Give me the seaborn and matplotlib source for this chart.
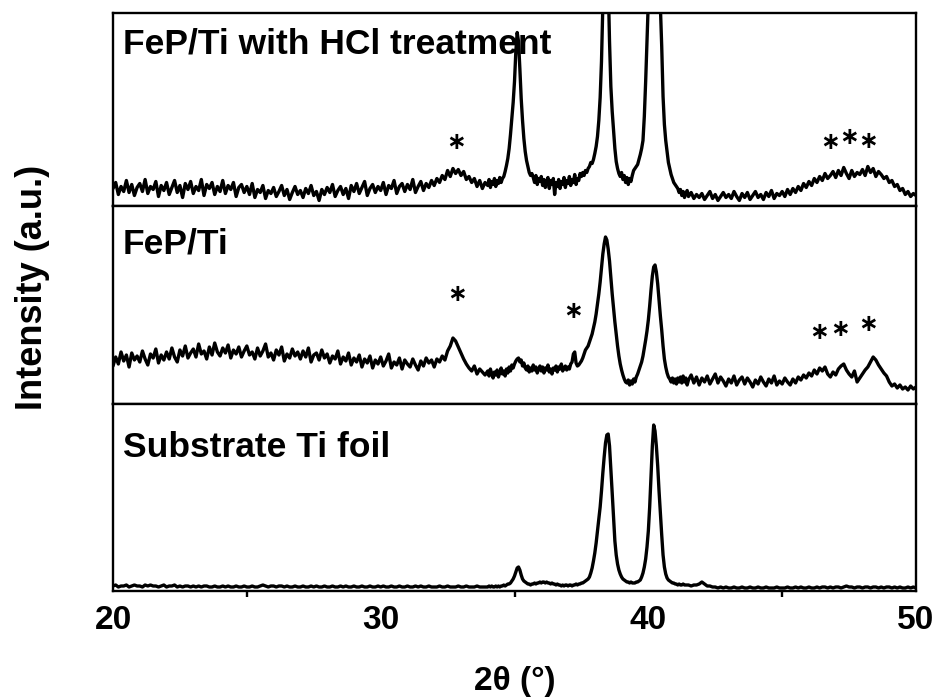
import numpy as np
import pandas as pd
import matplotlib
matplotlib.use("Agg")
import matplotlib.pyplot as plt
import seaborn as sns

# 2-theta grid: 0.1 deg steps, 0.05 deg steps through the Ti reflections
two_theta = np.concatenate([
    np.arange(200, 340) / 10.0,
    np.arange(680, 830) / 20.0,
    np.arange(415, 501) / 10.0,
])

# FeP/Ti after HCl treatment
hcl_counts = [
    18, 24, 12, 20, 15, 26, 14, 22, 11, 19,
    23, 15, 27, 13, 20, 17, 25, 10, 21, 16,
    24, 12, 19, 26, 14, 21, 9, 23, 17, 25,
    13, 20, 16, 27, 11, 22, 18, 24, 12, 20,
    15, 26, 13, 21, 17, 24, 10, 19, 22, 14,
    20, 12, 23, 9, 17, 14, 21, 8, 16, 13,
    19, 10, 15, 21, 11, 17, 7, 14, 20, 12,
    16, 9, 18, 13, 21, 11, 15, 6, 17, 12,
    19, 14, 22, 10, 16, 20, 12, 18, 8, 21,
    15, 23, 13, 19, 25, 11, 18, 22, 14, 20,
    16, 24, 12, 21, 18, 26, 13, 20, 23, 15,
    22, 17, 27, 14, 20, 25, 16, 23, 19, 26,
    21, 28, 24, 31, 27, 36, 30, 38, 33, 37,
    31, 35, 27, 30, 24, 28, 20, 26, 18, 24,
    # 34.00 - 41.45
    21, 27, 19, 25, 22, 28, 20, 26, 23, 29,
    24, 28, 30, 35, 41, 48, 58, 72, 88, 104,
    125, 155, 174, 165, 138, 108, 86, 68, 55, 46,
    40, 34, 31, 33, 29, 24, 31, 22, 28, 25,
    30, 21, 27, 19, 25, 29, 18, 26, 22, 28,
    12, 24, 20, 27, 18, 25, 22, 29, 19, 26,
    23, 30, 21, 27, 24, 32, 22, 28, 26, 33,
    30, 34, 31, 36, 34, 38, 40, 44, 43, 47,
    53, 60, 70, 86, 109, 145, 199, 270, 320, 295,
    226, 165, 120, 95, 76, 58, 45, 38, 33, 30,
    34, 27, 31, 24, 29, 22, 28, 25, 31, 36,
    38, 40, 42, 47, 52, 58, 66, 90, 125, 165,
    205, 260, 320, 360, 380, 370, 330, 280, 235, 200,
    160, 110, 82, 66, 55, 44, 38, 32, 28, 24,
    22, 20, 18, 14, 17, 11, 15, 9, 13, 16,
    # 41.5 - 50.0
    10, 14, 8, 12, 9,
    13, 7, 11, 15, 8, 12, 6, 10, 14, 9,
    12, 8, 15, 10, 6, 13, 9, 14, 7, 11,
    15, 9, 12, 7, 14, 10, 16, 8, 13, 11,
    15, 10, 17, 12, 18, 14, 20, 16, 23, 19,
    25, 21, 28, 24, 30, 26, 33, 28, 31, 35,
    29, 36, 31, 39, 33, 28, 36, 30, 34, 32,
    37, 31, 40, 34, 38, 30, 35, 32, 28, 30,
    24, 26, 20, 22, 16, 18, 12, 15, 10, 13,
    11,
]

# as-prepared FeP/Ti
fep_counts = [
    38, 47, 40, 52, 43, 49, 37, 51, 44, 48,
    42, 53, 45, 39, 50, 46, 55, 41, 49, 44,
    52, 45, 56, 47, 42, 54, 48, 58, 46, 51,
    55, 47, 60, 50, 53, 45, 57, 49, 61, 52,
    48, 56, 51, 59, 46, 54, 50, 57, 47, 53,
    58, 49, 52, 45, 56, 48, 53, 60, 47, 51,
    44, 54, 49, 57, 43, 50, 46, 55, 48, 52,
    45, 53, 47, 56, 42, 49, 51, 44, 54, 46,
    50, 41, 48, 45, 53, 40, 47, 43, 51, 39,
    46, 42, 49, 37, 45, 41, 48, 36, 44, 40,
    47, 38, 43, 50, 36, 42, 39, 46, 35, 44,
    40, 37, 45, 39, 34, 43, 38, 46, 41, 44,
    37, 45, 42, 48, 44, 53, 58, 66, 63, 57,
    51, 45, 40, 36, 33, 38, 30, 35, 32, 29,
    # 34.00 - 41.45
    33, 28, 35, 30, 26, 32, 29, 34, 27, 31,
    36, 30, 33, 28, 35, 31, 37, 33, 39, 36,
    40, 43, 45, 46, 42, 44, 38, 41, 36, 34,
    38, 32, 36, 33, 39, 34, 37, 31, 35, 38,
    33, 37, 31, 36, 34, 39, 32, 35, 30, 36,
    34, 38, 32, 37, 35, 40, 33, 36, 38, 34,
    37, 35, 40, 42, 50, 52, 41, 38, 39, 41,
    43, 46, 50, 54, 56, 58, 62, 66, 70, 76,
    82, 90, 100, 110, 122, 136, 150, 160, 167, 164,
    155, 143, 126, 110, 96, 82, 70, 58, 48, 40,
    34, 29, 25, 22, 21, 24, 19, 23, 20, 25,
    22, 27, 30, 34, 38, 42, 48, 56, 64, 73,
    84, 98, 114, 128, 137, 139, 132, 120, 104, 88,
    74, 58, 45, 37, 31, 27, 25, 22, 26, 21,
    25, 20, 26, 22, 27, 21, 28, 22, 26, 19,
    # 41.5 - 50.0
    24, 29, 21, 27, 19,
    26, 22, 28, 20, 25, 30, 21, 27, 23, 18,
    25, 21, 28, 19, 24, 27, 20, 26, 22, 17,
    24, 20, 27, 22, 18, 25, 21, 28, 19, 23,
    20, 26, 22, 19, 25, 21, 27, 24, 29, 26,
    31, 28, 34, 30, 36, 33, 37, 30, 27, 32,
    29, 35, 38, 40, 34, 30, 27, 33, 22, 26,
    30, 34, 37, 42, 47, 44, 39, 35, 31, 28,
    22, 18, 20, 16, 19, 15, 17, 14, 18, 15,
    17,
]

# bare Ti foil substrate
ti_counts = [
    5, 6, 4, 5, 5, 6, 4, 5, 6, 5,
    5, 4, 6, 5, 6, 5, 5, 4, 5, 6,
    4, 5, 5, 6, 4, 5, 4, 5, 5, 4,
    5, 4, 5, 4, 5, 5, 4, 4, 5, 4,
    4, 5, 4, 5, 4, 4, 5, 4, 4, 5,
    4, 4, 5, 4, 4, 5, 6, 5, 4, 5,
    5, 4, 5, 5, 4, 5, 4, 4, 5, 4,
    4, 5, 4, 4, 5, 4, 5, 4, 4, 5,
    4, 4, 5, 4, 4, 5, 4, 5, 4, 4,
    5, 4, 4, 5, 4, 4, 5, 4, 4, 5,
    4, 5, 4, 4, 5, 4, 4, 5, 4, 4,
    5, 4, 4, 5, 4, 5, 4, 4, 5, 4,
    4, 4, 5, 4, 4, 5, 4, 4, 4, 5,
    4, 4, 5, 4, 4, 4, 5, 4, 4, 4,
    # 34.00 - 41.45
    4, 5, 4, 5, 4, 4, 5, 4, 5, 4,
    5, 5, 6, 5, 6, 7, 7, 8, 10, 12,
    15, 19, 23, 24, 21, 16, 12, 10, 9, 8,
    7, 7, 6, 7, 7, 8, 7, 8, 8, 9,
    8, 9, 9, 8, 9, 8, 8, 7, 8, 7,
    7, 6, 7, 6, 6, 5, 6, 5, 6, 6,
    5, 6, 6, 5, 6, 6, 7, 6, 7, 7,
    8, 8, 9, 10, 11, 12, 14, 18, 23, 30,
    38, 48, 60, 72, 84, 100, 118, 134, 148, 156,
    157, 145, 122, 98, 73, 50, 36, 27, 21, 17,
    14, 12, 11, 10, 9, 9, 8, 9, 8, 8,
    8, 9, 9, 10, 11, 14, 18, 24, 32, 44,
    60, 84, 114, 145, 166, 160, 145, 125, 100, 78,
    56, 36, 24, 17, 13, 11, 10, 9, 8, 8,
    7, 7, 6, 7, 6, 6, 7, 6, 6, 6,
    # 41.5 - 50.0
    6, 5, 6, 6, 7,
    9, 7, 5, 5, 4, 4, 3, 4, 3, 4,
    3, 3, 4, 3, 3, 4, 3, 3, 4, 3,
    3, 4, 3, 3, 4, 3, 3, 3, 4, 3,
    3, 3, 4, 3, 3, 4, 3, 4, 3, 3,
    4, 3, 3, 4, 3, 4, 4, 3, 4, 3,
    4, 4, 3, 4, 5, 4, 4, 3, 4, 4,
    3, 4, 4, 3, 4, 4, 3, 4, 3, 4,
    4, 3, 4, 3, 4, 3, 3, 4, 3, 4,
    3,
]

sample_names = ["FeP/Ti with HCl treatment", "FeP/Ti", "Substrate Ti foil"]
panel_top = [193.5, 197.5, 187.0]

# FeP reflections marked with asterisks (2-theta, intensity)
hcl_marks = [(32.78, 64), (46.75, 64), (47.47, 69), (48.17, 65)]
fep_marks = [(32.85, 109), (37.15, 92), (46.34, 71), (47.16, 74), (48.20, 79)]
marks = [hcl_marks, fep_marks, []]

xticks_major = [20, 30, 40, 50]
xticks_minor = [25, 35, 45]

sns.set_theme(style="white")
plt.rcParams["font.family"] = ["Liberation Sans", "DejaVu Sans"]
plt.rcParams["font.weight"] = "bold"
for key in ("text.color", "axes.labelcolor", "xtick.color", "ytick.color",
            "axes.edgecolor"):
    plt.rcParams[key] = "black"

df = pd.DataFrame({
    "two_theta": np.tile(two_theta, 3),
    "intensity": np.concatenate([hcl_counts, fep_counts, ti_counts]),
    "sample": np.repeat(sample_names, len(two_theta)),
})

fig = plt.figure(figsize=(9.4, 7.0), dpi=100)
gs = fig.add_gridspec(3, 1, height_ratios=panel_top, hspace=0,
                      left=113 / 940, right=916 / 940,
                      top=1 - 13 / 700, bottom=1 - 591 / 700)
axes = [fig.add_subplot(gs[i]) for i in range(3)]

label_y = [0.793, 0.763, 0.718]
for i, ax in enumerate(axes):
    sub = df[df["sample"] == sample_names[i]]
    sns.lineplot(data=sub, x="two_theta", y="intensity", ax=ax, color="black",
                 linewidth=2.4, estimator=None, sort=False)
    ax.set_xlim(20, 50)
    ax.set_ylim(0, panel_top[i])
    ax.set_yticks([])
    ax.set_xlabel("")
    ax.set_ylabel("")
    for s in ax.spines.values():
        s.set_color("black")
        s.set_linewidth(1.7)
    ax.text(0.0125, label_y[i], sample_names[i], transform=ax.transAxes,
            fontsize=25.5, fontweight="bold", va="baseline", ha="left",
            color="black")
    for (tx, ty) in marks[i]:
        ax.text(tx, ty, r"$\ast$", ha="center", va="center", fontsize=17,
                color="black")
    if i < 2:
        ax.tick_params(axis="x", bottom=False, labelbottom=False)

bottom = axes[2]
bottom.set_xticks(xticks_major)
bottom.set_xticks(xticks_minor, minor=True)
bottom.tick_params(axis="x", which="major", direction="out", length=7,
                   width=1.7, color="black", labelsize=24, pad=3,
                   labelcolor="black")
bottom.tick_params(axis="x", which="minor", direction="out", length=4.5,
                   width=1.7, color="black", bottom=True)
for lab in bottom.get_xticklabels():
    lab.set_fontweight("bold")
bottom.set_xlabel("2θ (°)", fontsize=24, fontweight="bold", labelpad=22,
                  color="black")

fig.text(33 / 940, 1 - 287 / 700, "Intensity (a.u.)", rotation=90,
         ha="center", va="center", fontsize=26, fontweight="bold",
         color="black")

fig.savefig("out.png", dpi=100, facecolor="white")
